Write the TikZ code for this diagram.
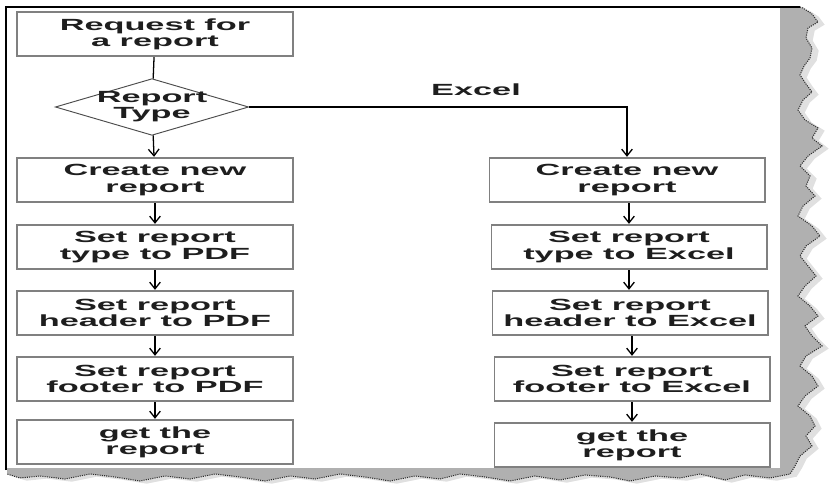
\documentclass[tikz,border=0pt]{standalone}
\usepackage{fontspec}
\setmainfont{Liberation Sans}[FakeStretch=2.12]
\usetikzlibrary{shapes.geometric,arrows.meta}
\definecolor{boxedge}{RGB}{128,128,128}
\definecolor{ink}{RGB}{30,30,30}
\definecolor{tear}{RGB}{176,176,176}

% torn paper margin along the right and bottom edges
\newcommand\tearshape[1]{%
  \fill[#1] (780,7) -- (800,7) -- (803,8) -- (812,14) -- (818,22) -- (808,28) -- (806,38) -- (812,48)
   -- (810,58) -- (804,66) -- (800,75) -- (806,84) -- (812,92) -- (803,100) -- (798,110) -- (805,120)
   -- (818,128) -- (812,138) -- (822,146) -- (808,156) -- (800,166) -- (810,176) -- (806,186) -- (815,196)
   -- (803,206) -- (798,216) -- (812,226) -- (820,236) -- (806,246) -- (800,256) -- (808,266) -- (816,276)
   -- (805,286) -- (798,296) -- (810,306) -- (818,316) -- (805,326) -- (812,336) -- (822,346) -- (806,356)
   -- (800,366) -- (812,376) -- (818,386) -- (805,396) -- (798,406) -- (810,416) -- (815,426) -- (806,436)
   -- (812,446) -- (800,456) -- (795,466) -- (790,474)
   -- (770,478) -- (745,475) -- (725,480) -- (700,474) -- (680,478) -- (655,476) -- (630,481) -- (610,477)
   -- (585,475) -- (560,480) -- (535,476) -- (510,481) -- (485,477) -- (460,474) -- (440,479) -- (415,476)
   -- (390,481) -- (365,477) -- (340,474) -- (315,479) -- (290,476) -- (265,481) -- (240,477) -- (215,474)
   -- (190,479) -- (165,476) -- (140,481) -- (115,477) -- (90,474) -- (65,479) -- (40,476) -- (20,478)
   -- (7,474) -- (7,468) -- (780,468) -- cycle;}
\newcommand\tearedge[1]{%
  \draw[#1] (800,7) -- (803,8) -- (812,14) -- (818,22) -- (808,28) -- (806,38) -- (812,48)
   -- (810,58) -- (804,66) -- (800,75) -- (806,84) -- (812,92) -- (803,100) -- (798,110) -- (805,120)
   -- (818,128) -- (812,138) -- (822,146) -- (808,156) -- (800,166) -- (810,176) -- (806,186) -- (815,196)
   -- (803,206) -- (798,216) -- (812,226) -- (820,236) -- (806,246) -- (800,256) -- (808,266) -- (816,276)
   -- (805,286) -- (798,296) -- (810,306) -- (818,316) -- (805,326) -- (812,336) -- (822,346) -- (806,356)
   -- (800,366) -- (812,376) -- (818,386) -- (805,396) -- (798,406) -- (810,416) -- (815,426) -- (806,436)
   -- (812,446) -- (800,456) -- (795,466) -- (790,474)
   -- (770,478) -- (745,475) -- (725,480) -- (700,474) -- (680,478) -- (655,476) -- (630,481) -- (610,477)
   -- (585,475) -- (560,480) -- (535,476) -- (510,481) -- (485,477) -- (460,474) -- (440,479) -- (415,476)
   -- (390,481) -- (365,477) -- (340,474) -- (315,479) -- (290,476) -- (265,481) -- (240,477) -- (215,474)
   -- (190,479) -- (165,476) -- (140,481) -- (115,477) -- (90,474) -- (65,479) -- (40,476) -- (20,478)
   -- (7,474);}

\begin{document}
\begin{tikzpicture}[x=0.03cm,y=-0.03cm,
  txt/.style={font=\fontsize{13.8}{13.8}\selectfont\bfseries, text=ink, align=center, inner sep=0pt},
  stepbox/.style={txt, draw=boxedge, line width=1.7pt, fill=white,
    minimum width=8.25cm, minimum height=1.33cm},
  decision/.style={diamond, draw=black!70, line width=0.8pt, fill=white,
    minimum width=5.8cm, minimum height=1.7cm, inner sep=0pt},
  conn/.style={draw=black, line width=1.1pt},
  arr/.style={conn, -{Straight Barb[length=0.2cm, width=0.32cm, line width=1.1pt]}}
]
\useasboundingbox (0,0) rectangle (836,484);
\fill[white] (0,0) rectangle (836,484);

% page shadow and torn edge
\tearshape{black, opacity=0.12, xshift=0.2cm, yshift=-0.08cm}
\tearshape{tear}
\tearedge{gray!35!black, densely dotted, line width=0.9pt}

% page border
\draw[black, line width=1.5pt] (6,470) -- (6,7) -- (800,7);

% left branch
\node[stepbox] (req) at (155,34) {Request for\\a report};
\node[decision] (rt) at (152,107) {};
\node[txt] (rtlbl) at (rt.center) {Report\\Type};
\node[stepbox] (cL) at (155,180) {Create new\\report};
\node[stepbox] (tL) at (155,247) {Set report\\type to PDF};
\node[stepbox] (hL) at (155,313) {Set report\\header to PDF};
\node[stepbox] (fL) at (155,379) {Set report\\footer to PDF};
\node[stepbox] (gL) at (155,442) {get the\\report};

% right branch
\node[stepbox] (cR) at (627,180) {Create new\\report};
\node[stepbox] (tR) at (629,247) {Set report\\type to Excel};
\node[stepbox] (hR) at (630,313) {Set report\\header to Excel};
\node[stepbox] (fR) at (632,379) {Set report\\footer to Excel};
\node[stepbox] (gR) at (632,445) {get the\\report};

\node[txt] (exl) at (476,90) {Excel};

% connectors
\draw[conn] (req) -- (rt);
\draw[arr] (rt) -- (cL);
\draw[arr] (cL) -- (tL);
\draw[arr] (tL) -- (hL);
\draw[arr] (hL) -- (fL);
\draw[arr] (fL) -- (gL);

\draw[arr] (rt.east) -| (cR.north);
\draw[arr] (cR.south -| tR.north) -- (tR.north);
\draw[arr] (tR.south) -- (tR.south |- hR.north);
\draw[arr] (hR.south -| fR.north) -- (fR.north);
\draw[arr] (fR) -- (gR);
\end{tikzpicture}
\end{document}
